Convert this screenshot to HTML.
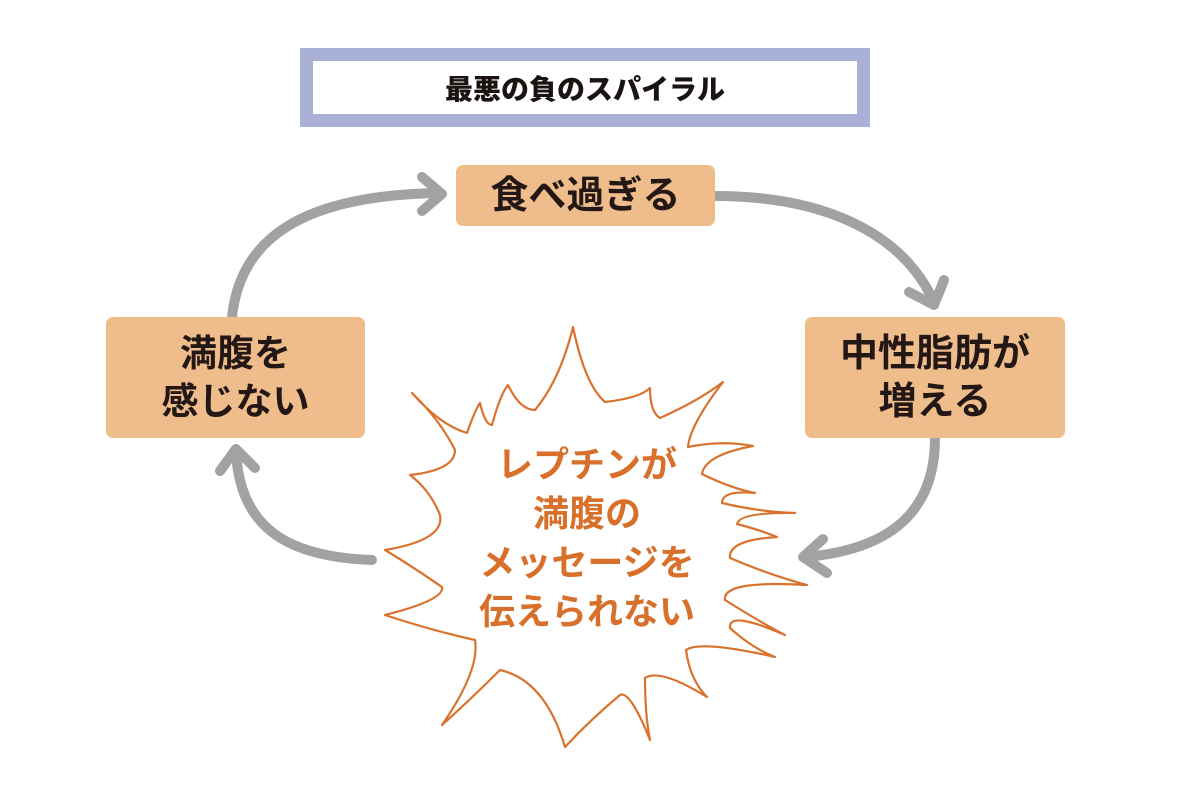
<!DOCTYPE html>
<html>
<head>
<meta charset="utf-8">
<style>
  html,body{margin:0;padding:0;background:#fff;}
  #wrap{position:relative;width:1188px;height:790px;overflow:hidden;background:#fff;
    font-family:"Liberation Sans","Noto Sans CJK JP",sans-serif;}
  .abs{position:absolute;}
  .title{left:300px;top:48px;width:544px;height:53px;border:13px solid #a9b1d6;background:#fff;
    display:flex;align-items:center;justify-content:center;font-size:28px;font-weight:900;color:#1a1311;letter-spacing:0px;}
  .box{background:#efbd8b;border-radius:7px;display:flex;align-items:center;justify-content:center;
    text-align:center;color:#231815;font-weight:700;}
  .burst{left:430px;top:440px;width:314px;text-align:center;font-size:36px;line-height:49px;
    color:#d8702b;font-weight:700;}
</style>
</head>
<body>
<div id="wrap">
  <svg class="abs" style="left:0;top:0" width="1188" height="790" viewBox="0 0 1188 790">
    <!-- starburst -->
    <path fill="#fff" stroke="#d9722d" stroke-width="2.2" stroke-linejoin="round"
      d="M573 327 Q585 385 605 402 Q640 398 650 388 Q650 412 660 418 Q700 400 723 382
         Q690 425 688 447 Q722 440 753 446 Q705 455 702 474 Q730 488 755 493
         Q722 490 722 503 Q760 512 795 513 Q740 512 737 524 Q760 530 777 537
         Q728 540 730 558 Q770 575 807 585 Q722 580 725 600 Q760 622 785 635
         Q728 610 730 628 Q752 648 775 657 Q700 640 686 650 Q690 680 707 697
         Q660 668 645 678 Q645 715 650 740 Q630 690 620 695 Q590 720 565 747
         Q545 680 500 670 Q470 700 442 725 Q480 670 475 640 Q430 630 385 615
         Q445 600 442 587 Q410 565 385 550 Q445 540 440 515 Q430 490 410 475
         Q455 470 455 450 Q440 420 412 393 Q440 425 467 433 Q475 410 480 403
         Q485 425 492 425 Q500 395 508 385 Q520 410 535 410 Q560 380 573 327 Z"/>
    <!-- arrows -->
    <g fill="none" stroke="#a2a2a2" stroke-width="10" stroke-linecap="round" stroke-linejoin="round">
      <path d="M232 317 C240 240 300 195 440 193"/>
      <path d="M422 177 L442 194 L422 211"/>
      <path d="M715 196 C820 196 900 230 933 300"/>
      <path d="M909 292 L934 305 L944 280"/>
      <path d="M935 438 C935 520 880 550 806 557"/>
      <path d="M823 539 L803 557 L827 573"/>
      <path d="M372 560 C290 557 240 530 236 452"/>
      <path d="M220 471 L236 449 L255 468"/>
    </g>
  </svg>

  <div class="abs title">最悪の負のスパイラル</div>

  <div class="abs box" style="left:456px;top:165px;width:259px;height:61px;font-size:38px;line-height:40px;">食べ過ぎる</div>
  <div class="abs box" style="left:106px;top:317px;width:259px;height:121px;font-size:37px;line-height:48px;">満腹を<br>感じない</div>
  <div class="abs box" style="left:805px;top:317px;width:260px;height:121px;font-size:38px;line-height:48px;">中性脂肪が<br>増える</div>

  <div class="abs burst">レプチンが<br>満腹の<br>メッセージを<br>伝えられない</div>
</div>
</body>
</html>
